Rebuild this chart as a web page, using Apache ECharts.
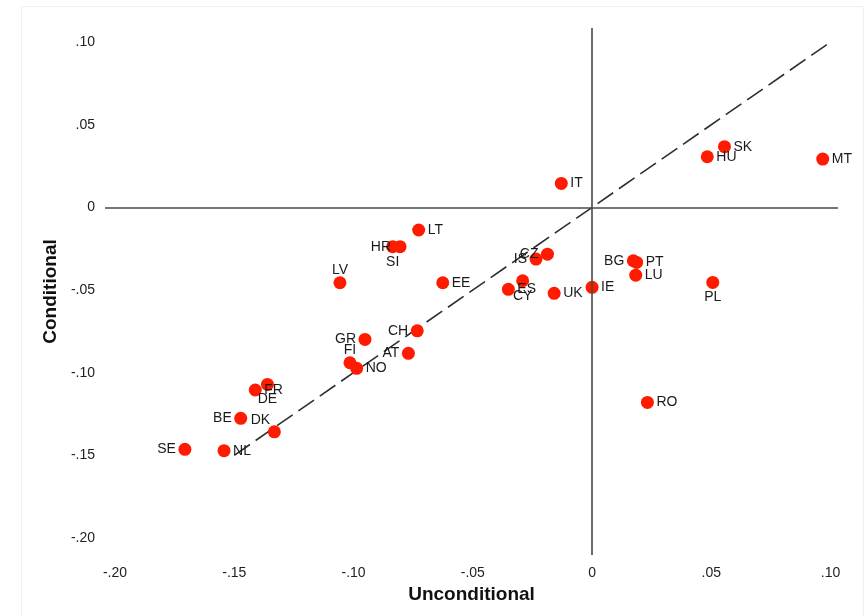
<!DOCTYPE html>
<html>
<head>
<meta charset="utf-8">
<title>Unconditional vs conditional</title>
<script src="https://cdn.jsdelivr.net/npm/echarts@6/dist/echarts.min.js"></script>
<style>
  html, body { margin: 0; padding: 0; background: #ffffff; }
  #chart { width: 866px; height: 616px; }
</style>
</head>
<body>
<div id="chart"></div>
<script>
// Country codes and their two estimates
const countries = ['SE', 'NL', 'BE', 'DK', 'FR', 'DE', 'LV', 'LT', 'SI', 'HR', 'EE',
  'CH', 'GR', 'AT', 'FI', 'NO', 'IT', 'CZ', 'IS', 'CY', 'ES', 'UK', 'IE', 'BG', 'PT',
  'LU', 'PL', 'RO', 'HU', 'SK', 'MT'];
const unconditional = [-0.1707, -0.1543, -0.1473, -0.1332, -0.1412, -0.1361, -0.1057,
  -0.0727, -0.0836, -0.0805, -0.0626, -0.0733, -0.0952, -0.0770, -0.1015, -0.0987,
  -0.0129, -0.0187, -0.0235, -0.0291, -0.0351, -0.0159, 0.0000, 0.0173, 0.0187,
  0.0183, 0.0506, 0.0232, 0.0483, 0.0555, 0.0967];
const conditional = [-0.1464, -0.1472, -0.1276, -0.1358, -0.1105, -0.1071, -0.0456,
  -0.0137, -0.0238, -0.0238, -0.0456, -0.0747, -0.0799, -0.0883, -0.0940, -0.0974,
  0.0145, -0.0283, -0.0313, -0.0444, -0.0496, -0.0520, -0.0484, -0.0323, -0.0333,
  -0.0410, -0.0454, -0.1180, 0.0306, 0.0367, 0.0292];

// Tick values on both axes
const xTicks = [-0.20, -0.15, -0.10, -0.05, 0, 0.05, 0.10];
const yTicks = [-0.20, -0.15, -0.10, -0.05, 0, 0.05, 0.10];

// 45-degree reference line end points
const diagonal = [-0.15, 0.10];

// Marker label placement (clock position); default is 3 o'clock
const labelClock = {
  SE: 9, BE: 9, DK: 10, DE: 6, SI: 6, HR: 9, LV: 12, CH: 9, GR: 9, AT: 9,
  FI: 12, CZ: 9, IS: 9, CY: 6, BG: 9, PL: 6
};

const labelFont = "'Liberation Sans Narrow', 'Arial Narrow', 'Liberation Sans', Arial, sans-serif";
const titleFont = "'Liberation Sans', Arial, sans-serif";

function labelStyle(clock) {
  switch (clock) {
    case 9:  return { align: 'right', verticalAlign: 'middle', offset: [-9, 0] };
    case 12: return { align: 'center', verticalAlign: 'middle', offset: [0, -13] };
    case 6:  return { align: 'center', verticalAlign: 'middle', offset: [0, 15] };
    case 10: return { align: 'center', verticalAlign: 'middle', offset: [-14, -12] };
    default: return { align: 'left', verticalAlign: 'middle', offset: [9, 0] };
  }
}

function tickText(v) {
  const r = Math.round(v * 100) / 100;
  if (r === 0) return '0';
  const s = Math.abs(r).toFixed(2).replace(/^0/, '');
  return (r < 0 ? '-' : '') + s;
}

const points = countries.map((c, i) => ({
  name: c,
  value: [unconditional[i], conditional[i]],
  label: Object.assign({ position: 'inside' }, labelStyle(labelClock[c] || 3))
}));

const chart = echarts.init(document.getElementById('chart'), null, { renderer: 'canvas' });

chart.setOption({
  animation: false,
  backgroundColor: '#ffffff',
  graphic: [{
    type: 'rect',
    shape: { x: 21.5, y: 6.5, width: 842, height: 640 },
    style: { fill: 'none', stroke: '#efefef', lineWidth: 1 },
    silent: true,
    z: -10
  }],
  grid: { left: 105, right: 28, top: 28, bottom: 61, containLabel: false },
  xAxis: {
    type: 'value',
    min: -0.2042,
    max: 0.1031,
    name: 'Unconditional',
    nameLocation: 'middle',
    nameGap: 22,
    nameTextStyle: { fontFamily: titleFont, fontWeight: 'bold', fontSize: 19, color: '#111' },
    axisLine: { show: false },
    axisTick: { show: false },
    splitLine: { show: false },
    axisLabel: {
      customValues: xTicks,
      formatter: tickText,
      fontFamily: labelFont,
      fontSize: 14,
      color: '#222',
      margin: 11
    }
  },
  yAxis: {
    type: 'value',
    min: -0.2103,
    max: 0.1085,
    name: 'Conditional',
    nameLocation: 'middle',
    nameGap: 37,
    nameTextStyle: { fontFamily: titleFont, fontWeight: 'bold', fontSize: 19, color: '#111' },
    axisLine: { show: false },
    axisTick: { show: false },
    splitLine: { show: false },
    axisLabel: {
      customValues: yTicks,
      formatter: tickText,
      fontFamily: labelFont,
      fontSize: 14,
      color: '#222',
      margin: 10
    }
  },
  series: [
    {
      // zero reference lines
      type: 'line',
      data: [],
      silent: true,
      markLine: {
        silent: true,
        symbol: 'none',
        label: { show: false },
        lineStyle: { color: '#4a4a4a', width: 1.6, type: 'solid' },
        data: [{ xAxis: 0 }, { yAxis: 0 }]
      }
    },
    {
      // 45-degree line
      type: 'line',
      data: diagonal.map(v => [v, v]),
      showSymbol: false,
      silent: true,
      lineStyle: { color: '#2e2e2e', width: 1.6, type: [19, 7] },
      z: 3
    },
    {
      type: 'scatter',
      data: points,
      symbol: 'circle',
      symbolSize: 13,
      itemStyle: { color: '#ff1a00', opacity: 1 },
      label: {
        show: true,
        formatter: p => p.name,
        fontFamily: labelFont,
        fontSize: 14,
        color: '#1a1a1a'
      },
      z: 4
    }
  ]
});
</script>
</body>
</html>
